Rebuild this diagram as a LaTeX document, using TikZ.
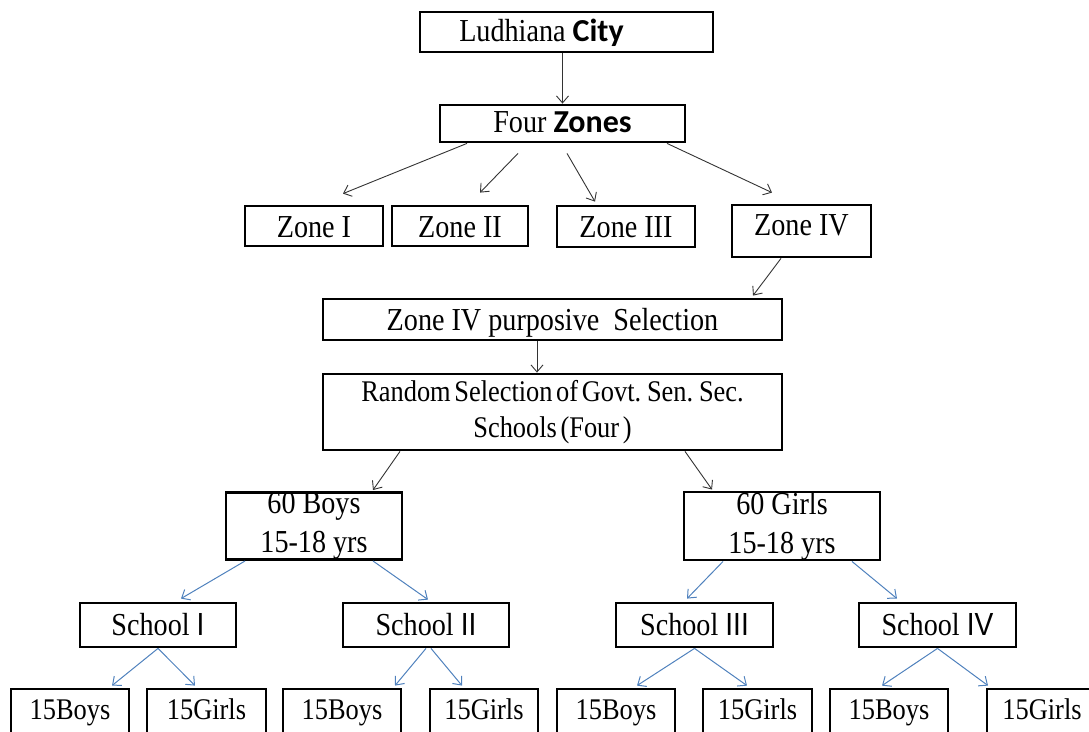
\documentclass[tikz,border=0pt]{standalone}
\usepackage{fontspec}
\setmainfont{Liberation Serif}[FakeStretch=0.88]
\setsansfont{Liberation Sans}[FakeStretch=0.88]
\newfontfamily\calfont{Carlito}
\usetikzlibrary{arrows.meta}
\definecolor{lineblue}{RGB}{79,129,189}
\newcommand\tightwords{\spaceskip=0.12em plus 0.05em\relax}
\tikzset{
  box/.style={draw, line width=2.8pt, inner sep=0pt, align=center, font=\fontsize{32}{36}\selectfont},
  onebox/.style={box, text height=21pt, text depth=#1},
  onebox/.default=7pt,
  zonebox/.style={box, text height=25pt, text depth=#1},
  zonebox/.default=3pt,
  blk/.style={-{Straight Barb[length=7pt,width=12pt]}, line width=0.9pt, draw=black!80},
  blu/.style={-{Straight Barb[length=7pt,width=12pt]}, line width=1pt, draw=lineblue},
}

\begin{document}
\begin{tikzpicture}[x=1pt,y=-1pt]
  %\draw[color=gray,step=10pt,help lines,opacity=0.3] (0,0) grid (1089,731); %help grid
  \useasboundingbox (0,0) rectangle (1089,731);
  \def\conn#1#2#3{
    \draw[#1] #2--#3;
  };
  % city and zones
  \node[onebox=3pt,minimum width=293pt,minimum height=40pt] (city) at (566.5,32) {Ludhiana {\calfont\bfseries City}\hspace*{50pt}};
  \node[onebox=4pt,minimum width=245pt,minimum height=37pt] (zones) at (562.5,123.5) {Four {\calfont\bfseries Zones}};
  \node[zonebox,minimum width=138pt,minimum height=40pt] (zone1) at (314,226) {Zone I};
  \node[zonebox,minimum width=136pt,minimum height=40pt] (zone2) at (460,226) {Zone II};
  \node[zonebox,minimum width=138pt,minimum height=41pt] (zone3) at (626,226.5) {Zone III};
  \node[onebox=13pt,minimum width=139pt,minimum height=52pt] (zone4) at (801.5,231) {Zone IV};
  \conn{blk}{(zones.north |- city.south)}{(zones.north)};
  \conn{blk}{([xshift=-95.5pt]zones.south)}{([xshift=29pt,yshift=11pt]zone1.north)};
  \conn{blk}{([xshift=-44.5pt,yshift=-10pt]zones.south)}{([xshift=20pt,yshift=12pt]zone2.north)};
  \conn{blk}{([xshift=4.5pt,yshift=-10pt]zones.south)}{([xshift=-31pt,yshift=3pt]zone3.north)};
  \conn{blk}{([xshift=104.5pt]zones.south)}{([xshift=-29.5pt,yshift=11pt]zone4.north)};
  % selection
  \node[onebox=0pt,minimum width=459pt,minimum height=41pt] (purpose) at (552.5,319.5) {Zone IV purposive\ \ Selection};
  \node[box,minimum width=459pt,minimum height=76pt,font={\fontsize{30}{36}\selectfont\tightwords}] (random) at (552.5,412) {Random Selection of Govt. Sen. Sec.\\Schools (Four )};
  \conn{blk}{([xshift=-20.5pt]zone4.south)}{([xshift=200.5pt,yshift=2pt]purpose.north)};
  \conn{blk}{([xshift=-15.5pt]purpose.south)}{([xshift=-15.5pt]random.north)};
  % boys and girls
  \node[box,minimum width=176pt,minimum height=66pt,font=\fontsize{32}{39}\selectfont] (boys) at (314,526) {60 Boys\\15-18 yrs};
  \node[box,minimum width=196pt,minimum height=66pt,font=\fontsize{32}{39}\selectfont] (girls) at (782,526) {60 Girls\\15-18 yrs};
  \conn{blk}{([xshift=-152.5pt]random.south)}{([xshift=59pt,yshift=1pt]boys.north)};
  \conn{blk}{([xshift=132.5pt]random.south)}{([xshift=-70pt,yshift=1pt]girls.north)};
  % schools
  \node[onebox=1pt,minimum width=156pt,minimum height=44pt] (school1) at (158,625) {School \textsf{I}};
  \node[onebox=1pt,minimum width=166pt,minimum height=44pt] (school2) at (426,625) {School \textsf{II}};
  \node[onebox=1pt,minimum width=157pt,minimum height=44pt] (school3) at (694.5,625) {School \textsf{III}};
  \node[onebox=1pt,minimum width=157pt,minimum height=44pt] (school4) at (937.5,625) {School \textsf{IV}};
  \conn{blu}{([xshift=-69pt]boys.south)}{([xshift=23pt,yshift=3pt]school1.north)};
  \conn{blu}{([xshift=59pt]boys.south)}{([xshift=2pt,yshift=2pt]school2.north)};
  \conn{blu}{([xshift=-59pt]girls.south)}{([xshift=-7.5pt,yshift=3pt]school3.north)};
  \conn{blu}{([xshift=70pt]girls.south)}{([xshift=-40.5pt,yshift=3pt]school4.north)};
  % fifteen each
  \tikzset{leaf/.style={onebox,minimum height=46pt,font=\fontsize{30}{36}\selectfont}}
  \node[leaf,minimum width=118pt] (boys1) at (70,712) {15Boys};
  \node[leaf,minimum width=119pt] (girls1) at (206.5,712) {15Girls};
  \node[leaf,minimum width=118pt] (boys2) at (342,712) {15Boys};
  \node[leaf,minimum width=108pt] (girls2) at (484,712) {15Girls};
  \node[leaf,minimum width=118pt] (boys3) at (616,712) {15Boys};
  \node[leaf,minimum width=109pt] (girls3) at (757.5,712) {15Girls};
  \node[leaf,minimum width=118pt] (boys4) at (889,712) {15Boys};
  \node[leaf,minimum width=110pt] (girls4) at (1042,712) {15Girls};
  \conn{blu}{(school1.south)}{([xshift=42pt,yshift=2pt]boys1.north)};
  \conn{blu}{(school1.south)}{([xshift=-11.5pt,yshift=2pt]girls1.north)};
  \conn{blu}{(school2.south)}{([xshift=53pt,yshift=2pt]boys2.north)};
  \conn{blu}{([xshift=5pt]school2.south)}{([xshift=-22pt,yshift=2pt]girls2.north)};
  \conn{blu}{(school3.south)}{([xshift=21pt,yshift=2pt]boys3.north)};
  \conn{blu}{(school3.south)}{([xshift=-10.5pt,yshift=2pt]girls3.north)};
  \conn{blu}{(school4.south)}{([xshift=-7pt,yshift=2pt]boys4.north)};
  \conn{blu}{(school4.south)}{([xshift=-54pt,yshift=2pt]girls4.north)};
\end{tikzpicture}
\end{document}
